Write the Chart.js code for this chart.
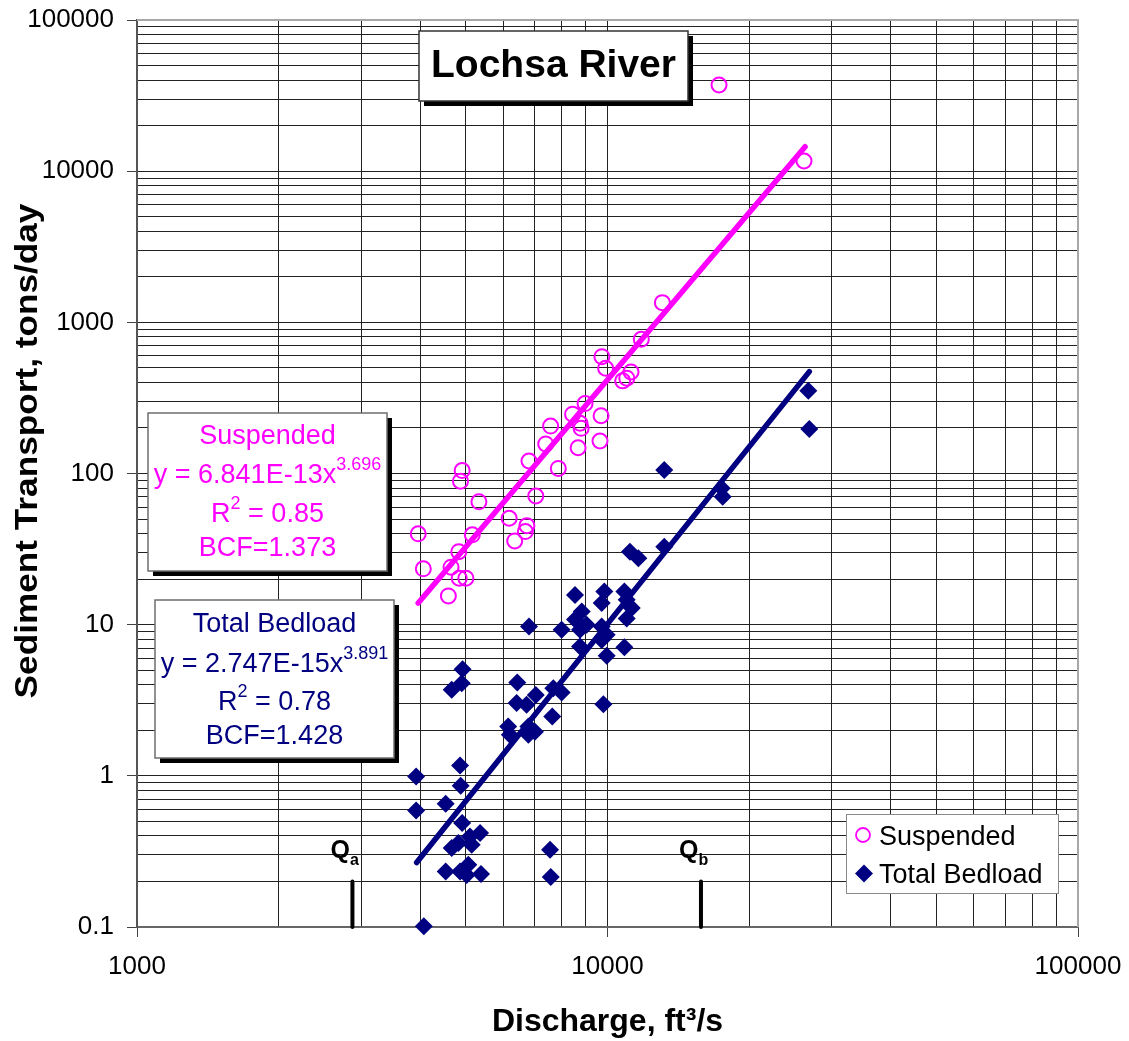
<!DOCTYPE html>
<html><head><meta charset="utf-8">
<script src="https://cdn.jsdelivr.net/npm/chart.js@4.4.1/dist/chart.umd.min.js"></script>
<style>html,body{margin:0;padding:0;background:#fff;}canvas{display:block;}</style>
</head><body>
<canvas id="c" width="1129" height="1041"></canvas>
<script>
const FONT = "'Liberation Sans', Arial, Helvetica, sans-serif";

// ---- data ----
const suspendedQ = [3960, 4060, 4590, 4650, 4830, 4840, 4870, 4910, 5000, 5160, 5330, 6180, 6350, 6690, 6740, 6810, 7040, 7390, 7570, 7860, 8430, 8660, 8740, 8790, 8960, 9640, 9690, 9730, 9910, 10770, 10990, 11220, 11800, 13080, 17260, 26160];
const suspendedT = [39.9, 23.4, 15.5, 24.0, 30.4, 20.3, 89, 104.5, 20.3, 39.3, 65, 50.6, 35.8, 41.3, 45.2, 121, 71, 157, 206, 108, 247, 148, 215, 199, 290, 164, 241, 593, 497, 410, 427, 470, 773, 1350, 37160, 11680];

const bedloadQ = [4070, 3920, 3920, 4530, 4530, 4665, 4820, 4860, 4910, 4875, 4860, 5060, 5020, 5145, 5100, 5360, 5385, 4665, 4900, 4920, 6150, 6200, 6430, 6410, 6730, 7040, 6810, 6790, 6790, 7010, 7630, 7670, 7990, 7550, 7575, 7990, 8530, 8815, 8530, 9030, 8740, 8740, 9845, 9720, 9720, 9960, 9720, 9960, 9800, 10860, 10985, 11260, 10985, 10860, 11160, 11630, 13200, 13200, 17490, 17570, 26720, 26850];
const bedloadT = [0.101, 0.989, 0.590, 0.653, 0.233, 0.333, 0.359, 0.233, 0.487, 0.859, 1.17, 0.258, 0.221, 0.350, 0.397, 0.418, 0.224, 3.71, 4.10, 5.08, 2.12, 1.87, 4.14, 3.03, 2.95, 3.43, 9.71, 2.12, 1.87, 1.96, 2.47, 3.80, 3.56, 0.324, 0.214, 9.24, 15.7, 12.2, 10.8, 9.97, 9.24, 7.16, 16.6, 13.9, 9.71, 8.56, 7.93, 6.22, 2.98, 16.6, 14.6, 12.9, 11.0, 7.10, 30.4, 27.5, 32.8, 105.6, 80, 70.3, 353, 197];

const suspendedFitQ = [3960, 26300];
const suspendedFitT = [13.9, 14500];
const bedloadFitQ = [3930, 26850];
const bedloadFitT = [0.267, 472];

const qMarkerNames = ['a', 'b'];
const qMarkerQ = [2870, 15800];
const qMarkerT = [0.1, 0.2];

const xTickLabels = [1000, 10000, 100000];
const yTickLabels = [0.1, 1, 10, 100, 1000, 10000, 100000];

const suspendedText = {name: 'Suspended', coef: '6.841E-13', exp: '3.696', r2: '0.85', bcf: '1.373'};
const bedloadText = {name: 'Total Bedload', coef: '2.747E-15', exp: '3.891', r2: '0.78', bcf: '1.428'};

const MAGENTA = '#FF00FF';
const NAVY = '#000080';

// ---- helpers ----
function pts(xs, ys) { return xs.map((x, i) => ({x: x, y: ys[i]})); }
function gridValues(labels) {
  const out = [];
  for (let i = 0; i < labels.length; i++) {
    out.push(labels[i]);
    if (i < labels.length - 1) for (let m = 2; m <= 9; m++) out.push(labels[i] * m);
  }
  return out;
}
function isLabel(v, labels) { return labels.some(l => Math.abs(l - v) / l < 1e-9); }
function labelText(v, labels) { const l = labels.find(l => Math.abs(l - v) / l < 1e-9); return l === undefined ? '' : String(l); }
function noPad(s) { s.paddingTop = 0; s.paddingBottom = 0; s.paddingLeft = 0; s.paddingRight = 0; }

const xGrid = gridValues(xTickLabels);
const yGrid = gridValues(yTickLabels);

function fnt(p) { return (p.b ? 'bold ' : '') + p.s + 'px ' + FONT; }
function drawRich(ctx, parts, cx, baseline, color, alignLeft) {
  let total = 0;
  parts.forEach(p => { ctx.font = fnt(p); p.w = ctx.measureText(p.t).width; total += p.w; });
  let x = alignLeft ? cx : cx - total / 2;
  ctx.textAlign = 'left'; ctx.textBaseline = 'alphabetic'; ctx.fillStyle = color;
  parts.forEach(p => { ctx.font = fnt(p); ctx.fillText(p.t, x, baseline + (p.dy || 0)); x += p.w; });
}
function box(ctx, x, y, w, h, stroke, lw, shadow) {
  if (shadow) { ctx.fillStyle = '#000'; ctx.fillRect(x + shadow, y + shadow, w, h); }
  ctx.fillStyle = '#fff'; ctx.fillRect(x, y, w, h);
  ctx.strokeStyle = stroke; ctx.lineWidth = lw; ctx.strokeRect(x, y, w, h);
}
function eqBox(ctx, t, x, y, w, h, baselines, color) {
  box(ctx, x, y, w, h, '#6e6e6e', 1.5, 5);
  const cx = x + w / 2;
  drawRich(ctx, [{t: t.name, s: 27}], cx, baselines[0], color);
  drawRich(ctx, [{t: 'y = ' + t.coef + 'x', s: 27}, {t: t.exp, s: 18, dy: -13}], cx, baselines[1], color);
  drawRich(ctx, [{t: 'R', s: 27}, {t: '2', s: 18, dy: -13}, {t: ' = ' + t.r2, s: 27}], cx, baselines[2], color);
  drawRich(ctx, [{t: 'BCF=' + t.bcf, s: 27}], cx, baselines[3], color);
}

const annotations = {
  id: 'annotations',
  afterDraw(chart) {
    const ctx = chart.ctx, ca = chart.chartArea, xs = chart.scales.x;
    ctx.save();
    // top and right frame
    ctx.strokeStyle = '#a8a8a8'; ctx.lineWidth = 2;
    ctx.beginPath(); ctx.moveTo(ca.left, ca.top); ctx.lineTo(ca.right, ca.top); ctx.lineTo(ca.right, ca.bottom); ctx.stroke();

    // y axis title
    ctx.save();
    ctx.translate(28, 451); ctx.rotate(-Math.PI / 2); ctx.scale(1.1, 1);
    ctx.font = 'bold 32px ' + FONT; ctx.fillStyle = '#000'; ctx.textAlign = 'center'; ctx.textBaseline = 'middle';
    ctx.fillText('Sediment Transport, tons/day', 0, 0);
    ctx.restore();

    // chart title box
    box(ctx, 419, 31, 269, 70, '#333', 1.5, 5);
    drawRich(ctx, [{t: 'Lochsa River', s: 39, b: true}], 553.5, 77, '#000');

    // equation boxes
    eqBox(ctx, suspendedText, 148, 413, 239, 158, [444, 483, 522, 556], MAGENTA);
    eqBox(ctx, bedloadText, 155, 600, 239, 158, [632, 672, 710, 744], NAVY);

    // Q markers labels
    qMarkerNames.forEach((n, i) => {
      const px = xs.getPixelForValue(qMarkerQ[i]);
      drawRich(ctx, [{t: 'Q', s: 25, b: true}, {t: n, s: 16, b: true, dy: 7}], px - 22, 858, '#000', true);
    });

    // legend
    const lx = 846, ly = 814;
    ctx.fillStyle = '#fff'; ctx.fillRect(lx, ly, 212, 79);
    ctx.strokeStyle = '#8a8a8a'; ctx.lineWidth = 1; ctx.strokeRect(lx + 0.5, ly + 0.5, 212, 79);
    ctx.beginPath(); ctx.arc(863, 835, 7, 0, Math.PI * 2); ctx.strokeStyle = MAGENTA; ctx.lineWidth = 1.8; ctx.stroke();
    ctx.beginPath(); ctx.moveTo(864, 864.5); ctx.lineTo(873, 873.5); ctx.lineTo(864, 882.5); ctx.lineTo(855, 873.5); ctx.closePath();
    ctx.fillStyle = NAVY; ctx.fill();
    drawRich(ctx, [{t: suspendedText.name, s: 27}], 879, 845, '#000', true);
    drawRich(ctx, [{t: bedloadText.name, s: 27}], 879, 883, '#000', true);
    ctx.restore();
  }
};

new Chart(document.getElementById('c'), {
  type: 'scatter',
  data: {
    datasets: [
      {label: 'Suspended fit', type: 'line', data: pts(suspendedFitQ, suspendedFitT), borderColor: MAGENTA, borderWidth: 5.5, borderCapStyle: 'round', pointRadius: 0, fill: false, order: 0},
      {label: 'Total Bedload fit', type: 'line', data: pts(bedloadFitQ, bedloadFitT), borderColor: NAVY, borderWidth: 5.5, borderCapStyle: 'round', pointRadius: 0, fill: false, order: 0},
      {label: 'Qa', type: 'line', data: pts([qMarkerQ[0], qMarkerQ[0]], qMarkerT), borderColor: '#000', borderWidth: 4, borderCapStyle: 'round', pointRadius: 0, fill: false, order: 0, clip: false},
      {label: 'Qb', type: 'line', data: pts([qMarkerQ[1], qMarkerQ[1]], qMarkerT), borderColor: '#000', borderWidth: 4, borderCapStyle: 'round', pointRadius: 0, fill: false, order: 0, clip: false},
      {label: 'Suspended', data: pts(suspendedQ, suspendedT), pointStyle: 'circle', pointRadius: 7.5, pointBorderWidth: 2, pointBorderColor: MAGENTA, pointBackgroundColor: 'rgba(0,0,0,0)', order: 1, clip: false},
      {label: 'Total Bedload', data: pts(bedloadQ, bedloadT), pointStyle: 'rectRot', pointRadius: 9, pointBorderWidth: 0, pointBorderColor: NAVY, pointBackgroundColor: NAVY, order: 1, clip: false}
    ]
  },
  options: {
    responsive: false, animation: false, devicePixelRatio: 1, events: [],
    layout: {padding: {left: 0, top: 20, right: 51, bottom: 0}},
    plugins: {legend: {display: false}, tooltip: {enabled: false}, title: {display: false}},
    scales: {
      x: {
        type: 'logarithmic', min: 1000, max: 100000,
        afterBuildTicks: s => { s.ticks = xGrid.map(v => ({value: v})); },
        afterFit: s => { s.height = 114; noPad(s); },
        ticks: {autoSkip: false, maxRotation: 0, color: '#000', padding: 14, font: {family: FONT, size: 26},
          callback: v => labelText(v, xTickLabels)},
        grid: {color: '#222', lineWidth: 1, tickLength: 10, tickColor: c => isLabel(c.tick.value, xTickLabels) ? '#444' : 'rgba(0,0,0,0)'},
        border: {display: true, color: '#666', width: 2},
        title: {display: true, text: 'Discharge, ft³/s', color: '#000', font: {family: FONT, size: 32, weight: 'bold'}, padding: {top: 0, bottom: 0}}
      },
      y: {
        type: 'logarithmic', min: 0.1, max: 100000,
        afterBuildTicks: s => { s.ticks = yGrid.map(v => ({value: v})); },
        afterFit: s => { s.width = 137; noPad(s); },
        ticks: {autoSkip: false, color: '#000', padding: 13, font: {family: FONT, size: 26},
          callback: v => labelText(v, yTickLabels)},
        grid: {color: '#222', lineWidth: 1, tickLength: 10, tickColor: c => isLabel(c.tick.value, yTickLabels) ? '#444' : 'rgba(0,0,0,0)'},
        border: {display: true, color: '#555', width: 2},
        title: {display: false}
      }
    }
  },
  plugins: [annotations]
});
</script>
</body></html>
